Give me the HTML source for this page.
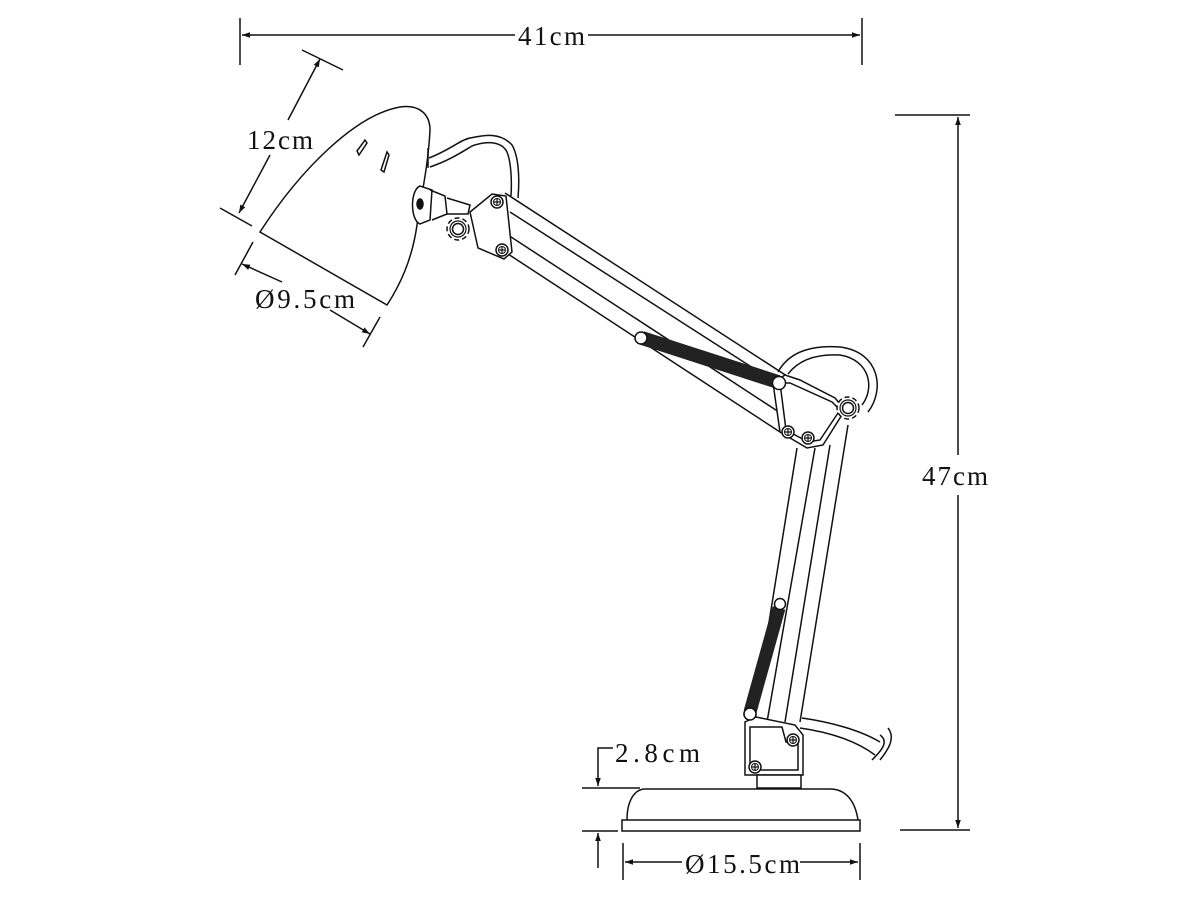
<!DOCTYPE html>
<html><head><meta charset="utf-8"><style>
html,body{margin:0;padding:0;background:#fff;}
svg{display:block;}
text{font-family:"Liberation Serif",serif;font-size:27px;fill:#111;}
</style></head><body>
<svg width="1200" height="900" viewBox="0 0 1200 900" xmlns="http://www.w3.org/2000/svg">
<defs>
<marker id="a" viewBox="0 0 10 10" refX="10" refY="5" markerWidth="10" markerHeight="8" orient="auto-start-reverse" markerUnits="userSpaceOnUse"><path d="M0,1.5 L10,5 L0,8.5 z" fill="#111"/></marker>
<g id="scr"><circle r="6" fill="#fff" stroke="#111" stroke-width="1.5"/><circle r="3.5" fill="none" stroke="#111" stroke-width="1"/><path d="M-3,0H3M0,-3V3" stroke="#111" stroke-width="1.2"/></g>
<g id="knob"><circle r="11" fill="#fff" stroke="#111" stroke-width="1.5" stroke-dasharray="5 3"/><circle r="8" fill="none" stroke="#111" stroke-width="1.2"/><circle r="5.5" fill="#fff" stroke="#111" stroke-width="1.5"/></g>
</defs>
<g stroke="#111" stroke-width="1.5" fill="none">
<line x1="240" y1="18" x2="240" y2="65"/><line x1="862" y1="18" x2="862" y2="65"/>
<line x1="242" y1="35" x2="515" y2="35" marker-start="url(#a)"/>
<line x1="588" y1="35" x2="860" y2="35" marker-end="url(#a)"/>
<line x1="895" y1="115" x2="970" y2="115"/><line x1="900" y1="830" x2="970" y2="830"/>
<line x1="958" y1="117" x2="958" y2="455" marker-start="url(#a)"/>
<line x1="958" y1="495" x2="958" y2="828" marker-end="url(#a)"/>
<line x1="302" y1="50" x2="343" y2="70"/><line x1="220" y1="208" x2="252" y2="226"/>
<line x1="320" y1="59" x2="288" y2="120" marker-start="url(#a)"/>
<line x1="270" y1="155" x2="239" y2="213" marker-end="url(#a)"/>
<line x1="253" y1="242" x2="235" y2="275"/><line x1="380" y1="317" x2="363" y2="347"/>
<line x1="242" y1="264" x2="282" y2="282" marker-start="url(#a)"/>
<line x1="330" y1="310" x2="370" y2="334" marker-end="url(#a)"/>
<path d="M260,232 C300,170 355,115 400,107 C420,104 430,115 430,130 C428,170 420,200 417,225 C412,260 400,285 387,305 Z" fill="#fff"/>
<path d="M357,151 L365,140 L367,143 L359,155 Z"/><path d="M381,170 L387,152 L389,155 L384,172 Z"/>
<line x1="428" y1="148" x2="428" y2="168"/>
<path d="M429,158 C450,150 460,140 470,138 C485,135 500,132 512,145 C518,155 520,175 518,198"/>
<path d="M430,167 C450,160 462,152 472,146 C488,140 502,142 507,152 C511,162 512,180 511,196"/>
<path d="M420,186 C410,190 410,220 420,224 L430,220 L432,190 Z" fill="#fff"/>
<path d="M430,190 L445,196 L447,214 L432,220"/><path d="M447,198 L470,205 L468,214 L447,214"/>
<ellipse cx="420" cy="204" rx="3" ry="5" fill="#111"/>
<use href="#knob" x="458" y="229"/>
<line x1="505" y1="193" x2="790" y2="378"/>
<line x1="510" y1="212" x2="778" y2="384"/>
<line x1="505" y1="233" x2="782" y2="414"/>
<line x1="505" y1="252" x2="780" y2="432"/>
<path d="M470,212 L492,194 L506,196 L512,252 L504,259 L478,248 Z" fill="#fff"/>
<line x1="642" y1="338" x2="778" y2="382" stroke-width="14" stroke="#222"/>
<circle cx="641" cy="338" r="6" fill="#fff"/><circle cx="779" cy="383" r="6.5" fill="#fff"/>
<path d="M778,372 C790,350 815,345 840,347 C880,352 885,390 868,412"/>
<path d="M788,374 C800,358 820,354 840,355 C870,360 875,388 862,405"/>
<line x1="797" y1="448" x2="753" y2="722"/>
<line x1="815" y1="448" x2="767" y2="722"/>
<line x1="830" y1="445" x2="785" y2="722"/>
<line x1="848" y1="425" x2="800" y2="722"/>
<path d="M773,383 L785,375 L800,380 L835,398 L845,410 L823,445 L807,448 L780,432 Z" fill="#fff"/>
<path d="M780,383 L790,383 L832,402 L840,410 L820,440 L808,442 L786,430 Z"/>
<use href="#knob" x="848" y="408"/>
<circle cx="779" cy="383" r="6.5" fill="#fff"/>
<line x1="779" y1="608" x2="750" y2="712" stroke-width="13" stroke="#222"/>
<circle cx="780" cy="604" r="5.5" fill="#fff"/><circle cx="750" cy="714" r="6" fill="#fff"/>
<path d="M802,718 C830,722 860,730 880,742"/><path d="M800,728 C828,732 855,740 875,755"/>
<path d="M880,735 C890,742 880,752 872,760"/><path d="M888,728 C896,738 888,750 880,760"/>
<path d="M745,722 L756,717 L795,725 L803,735 L803,775 L745,775 Z" fill="#fff"/>
<path d="M750,727 L782,727 L786,742 L798,743 L798,770 L750,770 Z"/>
<circle cx="750" cy="714" r="6" fill="#fff"/>
<rect x="757" y="775" width="44" height="13" fill="#fff"/>
<path d="M627,820 C627,800 635,789 645,789 L830,789 C845,789 855,800 858,820" fill="#fff"/>
<rect x="622" y="820" width="238" height="11" fill="#fff"/>
<line x1="582" y1="788" x2="640" y2="788"/><line x1="582" y1="831" x2="618" y2="831"/>
<path d="M613,748 L598,748 L598,786" marker-end="url(#a)"/>
<line x1="598" y1="868" x2="598" y2="833" marker-end="url(#a)"/>
<line x1="623" y1="843" x2="623" y2="880"/><line x1="860" y1="843" x2="860" y2="880"/>
<line x1="625" y1="862" x2="682" y2="862" marker-start="url(#a)"/>
<line x1="800" y1="862" x2="858" y2="862" marker-end="url(#a)"/>
</g>
<use href="#scr" x="497" y="202"/><use href="#scr" x="502" y="250"/>
<use href="#scr" x="788" y="432"/><use href="#scr" x="808" y="438"/>
<use href="#scr" x="793" y="740"/><use href="#scr" x="755" y="767"/>
<text x="518" y="45" textLength="67" lengthAdjust="spacing">41cm</text>
<text x="922" y="485" textLength="66" lengthAdjust="spacing">47cm</text>
<text x="247" y="149" textLength="66" lengthAdjust="spacing">12cm</text>
<text x="255" y="308" textLength="100" lengthAdjust="spacing">Ø9.5cm</text>
<text x="615" y="762" textLength="85" lengthAdjust="spacing">2.8cm</text>
<text x="685" y="873" textLength="115" lengthAdjust="spacing">Ø15.5cm</text>
</svg>
</body></html>
